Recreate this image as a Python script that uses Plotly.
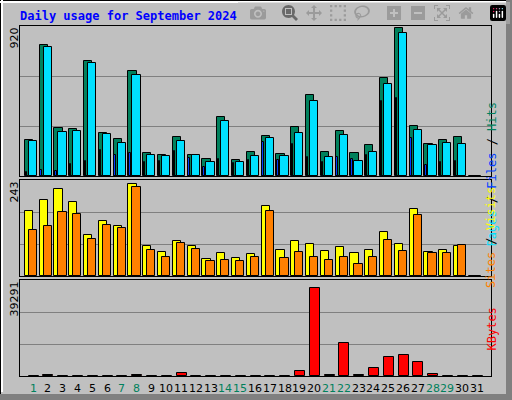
import plotly.graph_objects as go
from plotly.subplots import make_subplots

days = list(range(1, 32))
hits = [219,803,292,286,703,262,225,642,139,127,237,127,102,360,96,145,243,133,298,495,145,274,139,188,599,905,305,194,219,237,0]
files = [213,789,268,274,691,256,200,617,127,121,213,127,84,335,84,121,231,121,262,458,114,249,90,145,562,875,280,188,200,194,0]
pages = [22,35,29,72,90,157,127,139,84,90,151,108,53,102,78,96,206,96,194,114,84,114,102,127,458,476,231,65,84,90,0]
visits = [165,192,220,187,104,139,127,233,76,61,89,76,43,58,46,56,177,66,89,81,63,73,58,66,111,81,170,61,66,76,0]
sites = [116,127,162,157,94,129,122,225,66,48,84,68,38,41,38,48,165,46,61,48,41,48,30,48,91,63,154,58,58,78,0]
kbytes = [150,450,150,150,150,150,150,450,150,150,1190,150,150,150,150,150,150,150,1980,36100,450,13500,450,3180,7940,8730,5560,800,150,150,0]
weekend = [1,7,8,14,15,21,22,28,29]
max_top, max_mid, max_bot = 920, 243, 39291

fig = make_subplots(rows=3, cols=1, shared_xaxes=False, vertical_spacing=0)
line = dict(color="black", width=1)
def bar(y, color, off, w, row):
    fig.add_trace(go.Bar(x=days, y=y, offset=off, width=w, marker=dict(color=color, line=line)), row=row, col=1)

bar(hits, "#00805C", -0.55, 0.55, 1)
bar(files, "#00E0FF", -0.28, 0.55, 1)
bar(pages, "#0040FF", -0.50, 0.10, 1)
bar(visits, "#FFFF00", -0.55, 0.55, 2)
bar(sites, "#FF8000", -0.28, 0.55, 2)
bar(kbytes, "#FF0000", -0.30, 0.68, 3)

xd = [20/512, 491/512]
doms = [[1-176/400, 1-26/400], [1-276/400, 1-180/400], [1-376/400, 1-280/400]]
maxes = [max_top, max_mid, max_bot]
for i in range(3):
    fig.update_xaxes(row=i+1, col=1, domain=xd, range=[0.12, 31.95], showticklabels=False,
                     showgrid=False, zeroline=False, showline=True, linecolor="black", mirror=True, linewidth=1)
    fig.update_yaxes(row=i+1, col=1, domain=doms[i], range=[0, maxes[i]], tick0=0, dtick=maxes[i]/3,
                     showticklabels=False, gridcolor="#808080", gridwidth=1, zeroline=False,
                     showline=True, linecolor="black", mirror=True, linewidth=1)

mono = "DejaVu Sans Mono"
P = dict(xref="paper", yref="paper", showarrow=False)
ann = [dict(text="<b>Daily usage for September 2024</b>", x=18/512, y=1-16/400, xanchor="left", yanchor="middle",
            font=dict(family=mono, size=12, color="#0000FF"), **P)]
for lbl, yy in [("920", 26), ("243", 180), ("39291", 280)]:
    ann.append(dict(text=lbl, x=14/512, y=1-yy/400, xanchor="center", yanchor="top", textangle=-90,
                    font=dict(family="DejaVu Sans", size=11, color="black"), **P))
for d in days:
    ann.append(dict(text=str(d), x=d, xref="x3", y=1-388/400, yref="paper", xanchor="center", yanchor="middle",
                    showarrow=False, font=dict(family="DejaVu Sans", size=11, color="#00805C" if d in weekend else "black")))
ann.append(dict(text='<span style="color:#00E0FF">Pages</span> / <span style="color:#0040FF">Files</span> / <span style="color:#00805C">Hits</span>',
                x=500/512, y=1-100/400, textangle=-90, font=dict(family=mono, size=12, color="black"), **P))
ann.append(dict(text='<span style="color:#FF8000">Sites</span> / <span style="color:#FFFF00">Visits</span>',
                x=500/512, y=1-238/400, textangle=-90, font=dict(family=mono, size=12, color="black"), **P))
ann.append(dict(text='<span style="color:#FF0000">KBytes</span>', x=500/512, y=1-353/400, textangle=-90,
                font=dict(family=mono, size=12, color="black"), **P))

shapes = [
    dict(type="rect", xref="paper", yref="paper", x0=0, x1=1, y0=0, y1=1, line=dict(color="black", width=2), fillcolor="rgba(0,0,0,0)"),
    dict(type="line", xref="paper", yref="paper", x0=2/512, x1=2/512, y0=8/400, y1=1, line=dict(color="white", width=2)),
    dict(type="line", xref="paper", yref="paper", x0=0, x1=1, y0=1-2/400, y1=1-2/400, line=dict(color="white", width=2)),
    dict(type="rect", xref="paper", yref="paper", x0=0, x1=1, y0=0, y1=6/400, line=dict(width=0), fillcolor="#808080"),
    dict(type="rect", xref="paper", yref="paper", x0=1-6/512, x1=1, y0=0, y1=1, line=dict(width=0), fillcolor="#808080"),
]

fig.update_layout(width=512, height=400, margin=dict(l=0, r=0, t=0, b=0), barmode="overlay", showlegend=False,
                  paper_bgcolor="#C0C0C0", plot_bgcolor="#C0C0C0", annotations=ann, shapes=shapes, bargap=0)
fig.write_html("out.html", post_script="document.body.style.margin='0';document.body.style.overflow='hidden';")
